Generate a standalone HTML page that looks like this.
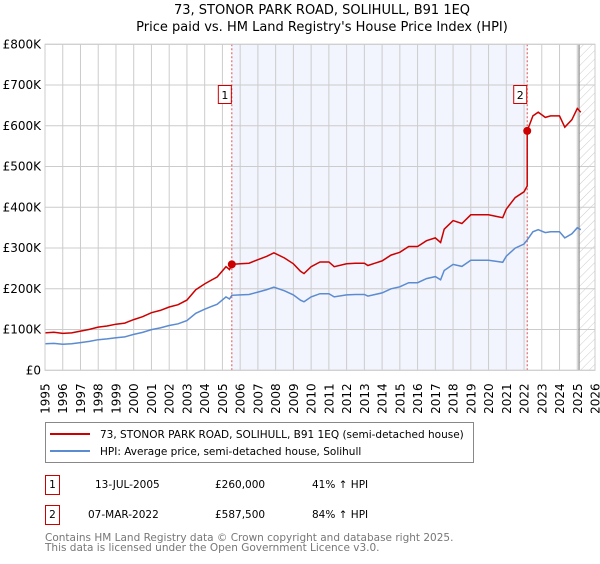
<!DOCTYPE html>
<html><head><meta charset="utf-8"><style>
body{margin:0;background:#fff;font-family:"DejaVu Sans","Liberation Sans",sans-serif;}
svg text{font-family:"DejaVu Sans","Liberation Sans",sans-serif;}
</style></head><body>
<svg id="c" width="600" height="560" viewBox="0 0 600 560">
<text x="322" y="14" text-anchor="middle" font-size="13" fill="#000">73, STONOR PARK ROAD, SOLIHULL, B91 1EQ</text>
<text x="322" y="31" text-anchor="middle" font-size="13" fill="#000">Price paid vs. HM Land Registry's House Price Index (HPI)</text>
<g id="plot"></g>
<g id="xlabels"></g>
<rect x="45.5" y="422.5" width="428" height="40" fill="#fff" stroke="#888"/>
<line x1="50" y1="434" x2="90" y2="434" stroke="#cc0000" stroke-width="2"/>
<text x="100" y="438" font-size="10.5">73, STONOR PARK ROAD, SOLIHULL, B91 1EQ (semi-detached house)</text>
<line x1="50" y1="451" x2="90" y2="451" stroke="#5b8bd0" stroke-width="2"/>
<text x="100" y="455" font-size="10.5">HPI: Average price, semi-detached house, Solihull</text>
<g font-size="10.5">
<rect x="45.5" y="475.5" width="14" height="19" fill="#fff" stroke="#cc0000"/>
<text x="52.5" y="488" text-anchor="middle">1</text>
<text x="95" y="488">13-JUL-2005</text><text x="215" y="488">£260,000</text><text x="312" y="488">41% ↑ HPI</text>
<rect x="45.5" y="505.5" width="14" height="19" fill="#fff" stroke="#cc0000"/>
<text x="52.5" y="518" text-anchor="middle">2</text>
<text x="88" y="518">07-MAR-2022</text><text x="215" y="518">£587,500</text><text x="312" y="518">84% ↑ HPI</text>
</g>
<text x="45" y="541" font-size="10.5" fill="#777">Contains HM Land Registry data © Crown copyright and database right 2025.</text>
<text x="45" y="551" font-size="10.5" fill="#777">This data is licensed under the Open Government Licence v3.0.</text>
</svg>
<script>
const hpiYears=[1995,1995.5,1996,1996.5,1997,1997.5,1998,1998.5,1999,1999.5,2000,2000.5,2001,2001.5,2002,2002.5,2003,2003.5,2004,2004.4,2004.7,2005.2,2005.4,2005.53,2006,2006.5,2007,2007.5,2007.9,2008.5,2009,2009.4,2009.6,2010,2010.5,2011,2011.3,2012,2012.5,2013,2013.2,2013.6,2014,2014.5,2015,2015.5,2016,2016.5,2017,2017.3,2017.5,2018,2018.5,2019,2019.5,2020,2020.5,2020.8,2021,2021.5,2022,2022.18,2022.5,2022.8,2023.2,2023.5,2024,2024.3,2024.7,2025,2025.2];
const hpiValues=[65,66,64,65,68,71,75,77,80,82,88,93,100,104,110,114,122,140,150,157,162,180,175,184,185,186,192,198,204,195,185,172,168,180,188,188,180,185,186,186,182,186,190,200,205,215,215,225,230,222,245,260,255,270,270,270,267,265,280,300,310,320,340,345,338,340,340,325,335,350,345];
const saleYears=[2005.53,2022.18];
const salePrices=[260,587.5];
const saleLabels=["1","2"];
const yTicks=[0,100,200,300,400,500,600,700,800];
const yTickLabels=["£0","£100K","£200K","£300K","£400K","£500K","£600K","£700K","£800K"];
const xTicks=[1995,1996,1997,1998,1999,2000,2001,2002,2003,2004,2005,2006,2007,2008,2009,2010,2011,2012,2013,2014,2015,2016,2017,2018,2019,2020,2021,2022,2023,2024,2025,2026];
const lastDataYear=2025.1;

const X0=45,X1=595,Y0=370.3,Y1=44.3;
const xs=v=>X0+(v-1995)/(2026-1995)*(X1-X0);
const ys=v=>Y0-v/800*(Y0-Y1);
const NS="http://www.w3.org/2000/svg";
const g=document.getElementById('plot');
function mk(t,a,p){const e=document.createElementNS(NS,t);for(const k in a)e.setAttribute(k,a[k]);(p||g).appendChild(e);return e;}

let sh=mk('rect',{x:xs(saleYears[0]),y:Y1,width:xs(saleYears[1])-xs(saleYears[0]),height:Y0-Y1,fill:'#f2f5fd'});


const defs=mk('defs',{});
const pat=mk('pattern',{id:'hatch',width:6,height:6,patternUnits:'userSpaceOnUse',patternTransform:'rotate(45)'},defs);
mk('line',{x1:0,y1:0,x2:0,y2:6,stroke:'#ccc','stroke-width':1},pat);
let ht=mk('rect',{x:xs(lastDataYear),y:Y1,width:X1-xs(lastDataYear),height:Y0-Y1,fill:'url(#hatch)'});


yTicks.forEach((t,i)=>{
 let l=mk('line',{x1:X0,x2:X1,y1:ys(t),y2:ys(t),stroke:'#ccc'});
 
 
 let tx=mk('text',{x:X0-4,y:ys(t)+4,'text-anchor':'end','font-size':12});
 tx.textContent=yTickLabels[i];
 
 
});
const xl=document.getElementById('xlabels');
xTicks.forEach(t=>{
 let l=mk('line',{x1:xs(t),x2:xs(t),y1:Y1,y2:Y0,stroke:'#ccc'});
 
 
 let gg=mk('g',{transform:'translate('+(xs(t)+4.5).toFixed(1)+','+(Y0+13)+') rotate(-90)'},xl);
 let tx=mk('text',{x:0,y:0,'text-anchor':'end','font-size':12},gg);
 tx.textContent=t;
 
 
});
let ld=mk('line',{x1:xs(lastDataYear),x2:xs(lastDataYear),y1:Y1,y2:Y0,stroke:'#888','stroke-width':1.2});


saleYears.forEach((s,i)=>{
 let l=mk('line',{x1:xs(s),x2:xs(s),y1:Y1,y2:Y0,stroke:'#e05050','stroke-dasharray':'2,2'});
 
 
});
const hp=hpiYears.map((y,i)=>xs(y).toFixed(1)+','+ys(hpiValues[i]).toFixed(1)).join(' ');
let bl=mk('polyline',{points:hp,fill:'none',stroke:'#5b8bd0','stroke-width':1.5});


function hpiAt(y){for(let i=1;i<hpiYears.length;i++){if(y<=hpiYears[i]){const f=(y-hpiYears[i-1])/(hpiYears[i]-hpiYears[i-1]);return hpiValues[i-1]+f*(hpiValues[i]-hpiValues[i-1]);}}return hpiValues[hpiValues.length-1];}
const r1=salePrices[0]/hpiAt(saleYears[0]), r2=salePrices[1]/hpiAt(saleYears[1]);
let pts=[];
hpiYears.forEach((y,i)=>{
 if(y<saleYears[1]) pts.push([y,hpiValues[i]*r1]);
 else if(y===saleYears[1]){pts.push([y,hpiValues[i]*r1]);pts.push([y,salePrices[1]]);}
 else pts.push([y,hpiValues[i]*r2]);
});
let rl=mk('polyline',{points:pts.map(p=>xs(p[0]).toFixed(1)+','+ys(p[1]).toFixed(1)).join(' '),fill:'none',stroke:'#cc0000','stroke-width':1.5});


saleYears.forEach((s,i)=>{
 let c=mk('circle',{cx:xs(s),cy:ys(salePrices[i]),r:4,fill:'#cc0000'});
 
 
 let b=mk('rect',{x:xs(s)-13.5,y:85.5,width:13,height:18,fill:'#fff',stroke:'#cc0000'});
 
 
 let t=mk('text',{x:xs(s)-7,y:99,'text-anchor':'middle','font-size':11});
 t.textContent=saleLabels[i];
 
 
});
let fr=mk('rect',{x:X0,y:Y1,width:X1-X0,height:Y0-Y1,fill:'none',stroke:'#ccc'});


</script>
</body></html>
